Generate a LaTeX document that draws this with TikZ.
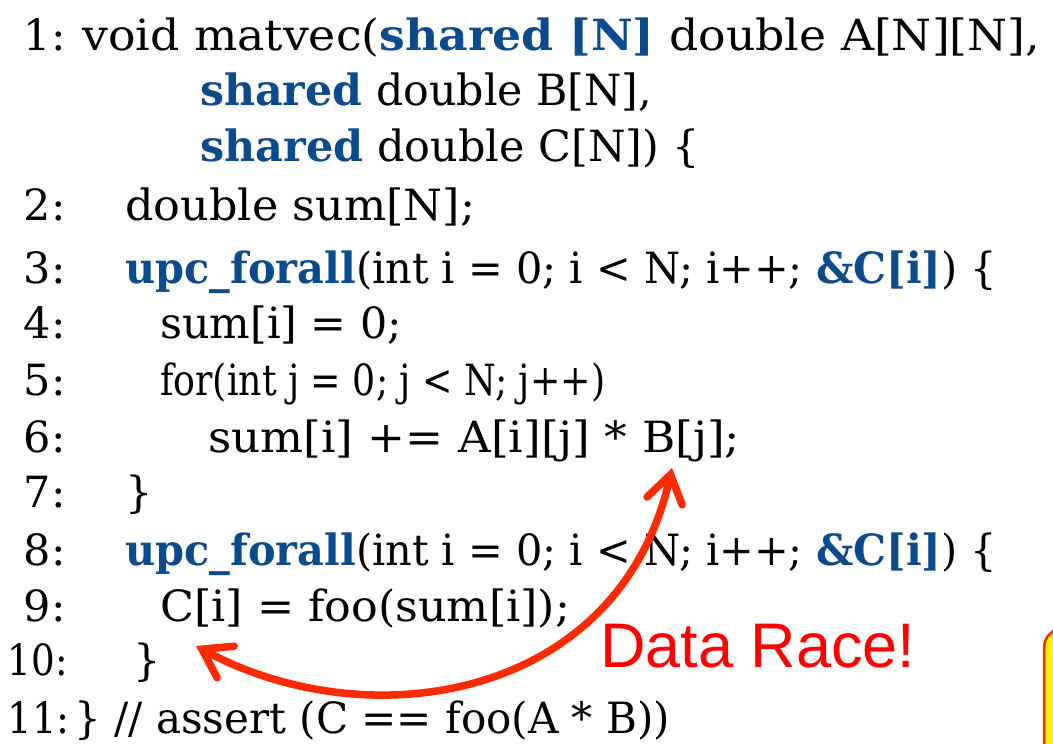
\documentclass[tikz,border=0pt]{standalone}
\usepackage{fontspec}
\setmainfont{DejaVu Serif}
\setsansfont{Liberation Sans}
\usetikzlibrary{arrows.meta}
\definecolor{kwblue}{HTML}{0B4A8C}
\definecolor{racered}{HTML}{FF2A00}
\newcommand{\kw}[1]{{\bfseries\color{kwblue}#1}}
\newcommand{\fitto}[2]{\resizebox{#1pt}{\height}{#2}}
\begin{document}
\begin{tikzpicture}[x=1pt,y=-1pt,
  code/.style={anchor=base west, inner sep=0pt, font=\fontsize{43}{43}\selectfont},
  lnum/.style={anchor=base east, inner sep=0pt, font=\fontsize{43}{43}\selectfont},
  racearrow/.style={draw=racered, line width=7.5pt, line cap=round,
     {Straight Barb[length=27pt,width=36pt,line cap=round]}-{Straight Barb[length=27pt,width=36pt,line cap=round]}},
  notebox/.style={draw=racered, fill=yellow, line width=2.5pt, rounded corners=20pt}]
\useasboundingbox (0,0) rectangle (1053,744);
\clip (0,0) rectangle (1053,744);
% line numbers
\node[lnum] (n1) at (66,50) {1:};
\node[lnum] (n2) at (66,220) {2:};
\node[lnum] (n3) at (66,283) {3:};
\node[lnum] (n4) at (66,338) {4:};
\node[lnum] (n5) at (66,395) {5:};
\node[lnum] (n6) at (66,452) {6:};
\node[lnum] (n7) at (66,507) {7:};
\node[lnum] (n8) at (66,565) {8:};
\node[lnum] (n9) at (66,621) {9:};
\node[lnum] (n10) at (68,675) {\fitto{60}{10:}};
\node[lnum] (n11) at (70,733) {\fitto{62}{11:}};
% code
\node[code] (c1) at (82,50) {\fitto{958}{void matvec(\kw{shared [N]} double A[N][N],}};
\node[code] (c1b) at (200,105) {\fitto{452}{\kw{shared} double B[N],}};
\node[code] (c1c) at (200,161) {\fitto{500}{\kw{shared} double C[N]) \{}};
\node[code] (c2) at (125,220) {\fitto{350}{double sum[N];}};
\node[code] (c3) at (125,283) {\fitto{872}{\kw{upc\_forall}(int i = 0; i < N; i++; \kw{\&C[i]}) \{}};
\node[code] (c4) at (160,338) {\fitto{242}{sum[i] = 0;}};
\node[code] (c5) at (160,395) {\fitto{445}{for(int j = 0; j < N; j++)}};
\node[code] (c6) at (208,452) {\fitto{532}{sum[i] += A[i][j] * B[j];}};
\node[code] (c7) at (125,507) {\}};
\node[code] (c8) at (125,565) {\fitto{872}{\kw{upc\_forall}(int i = 0; i < N; i++; \kw{\&C[i]}) \{}};
\node[code] (c9) at (160,621) {\fitto{410}{C[i] = foo(sum[i]);}};
\node[code] (c10) at (133,675) {\}};
\node[code] (c11) at (74,733) {\fitto{596}{\} // assert (C == foo(A * B))}};
% race label
\node[anchor=base west, inner sep=0pt, text=red, font=\sffamily\fontsize{63}{63}\selectfont] (race) at (600,667) {Data Race!};
% arrow
\coordinate (raceL) at (196,646);
\coordinate (raceR) at (672,468);
\draw[racearrow] (raceL) .. controls (370,740) and (620,700) .. (raceR);
% partially visible note box
\draw[notebox] (1044,628) rectangle (1130,820);
\end{tikzpicture}
\end{document}
